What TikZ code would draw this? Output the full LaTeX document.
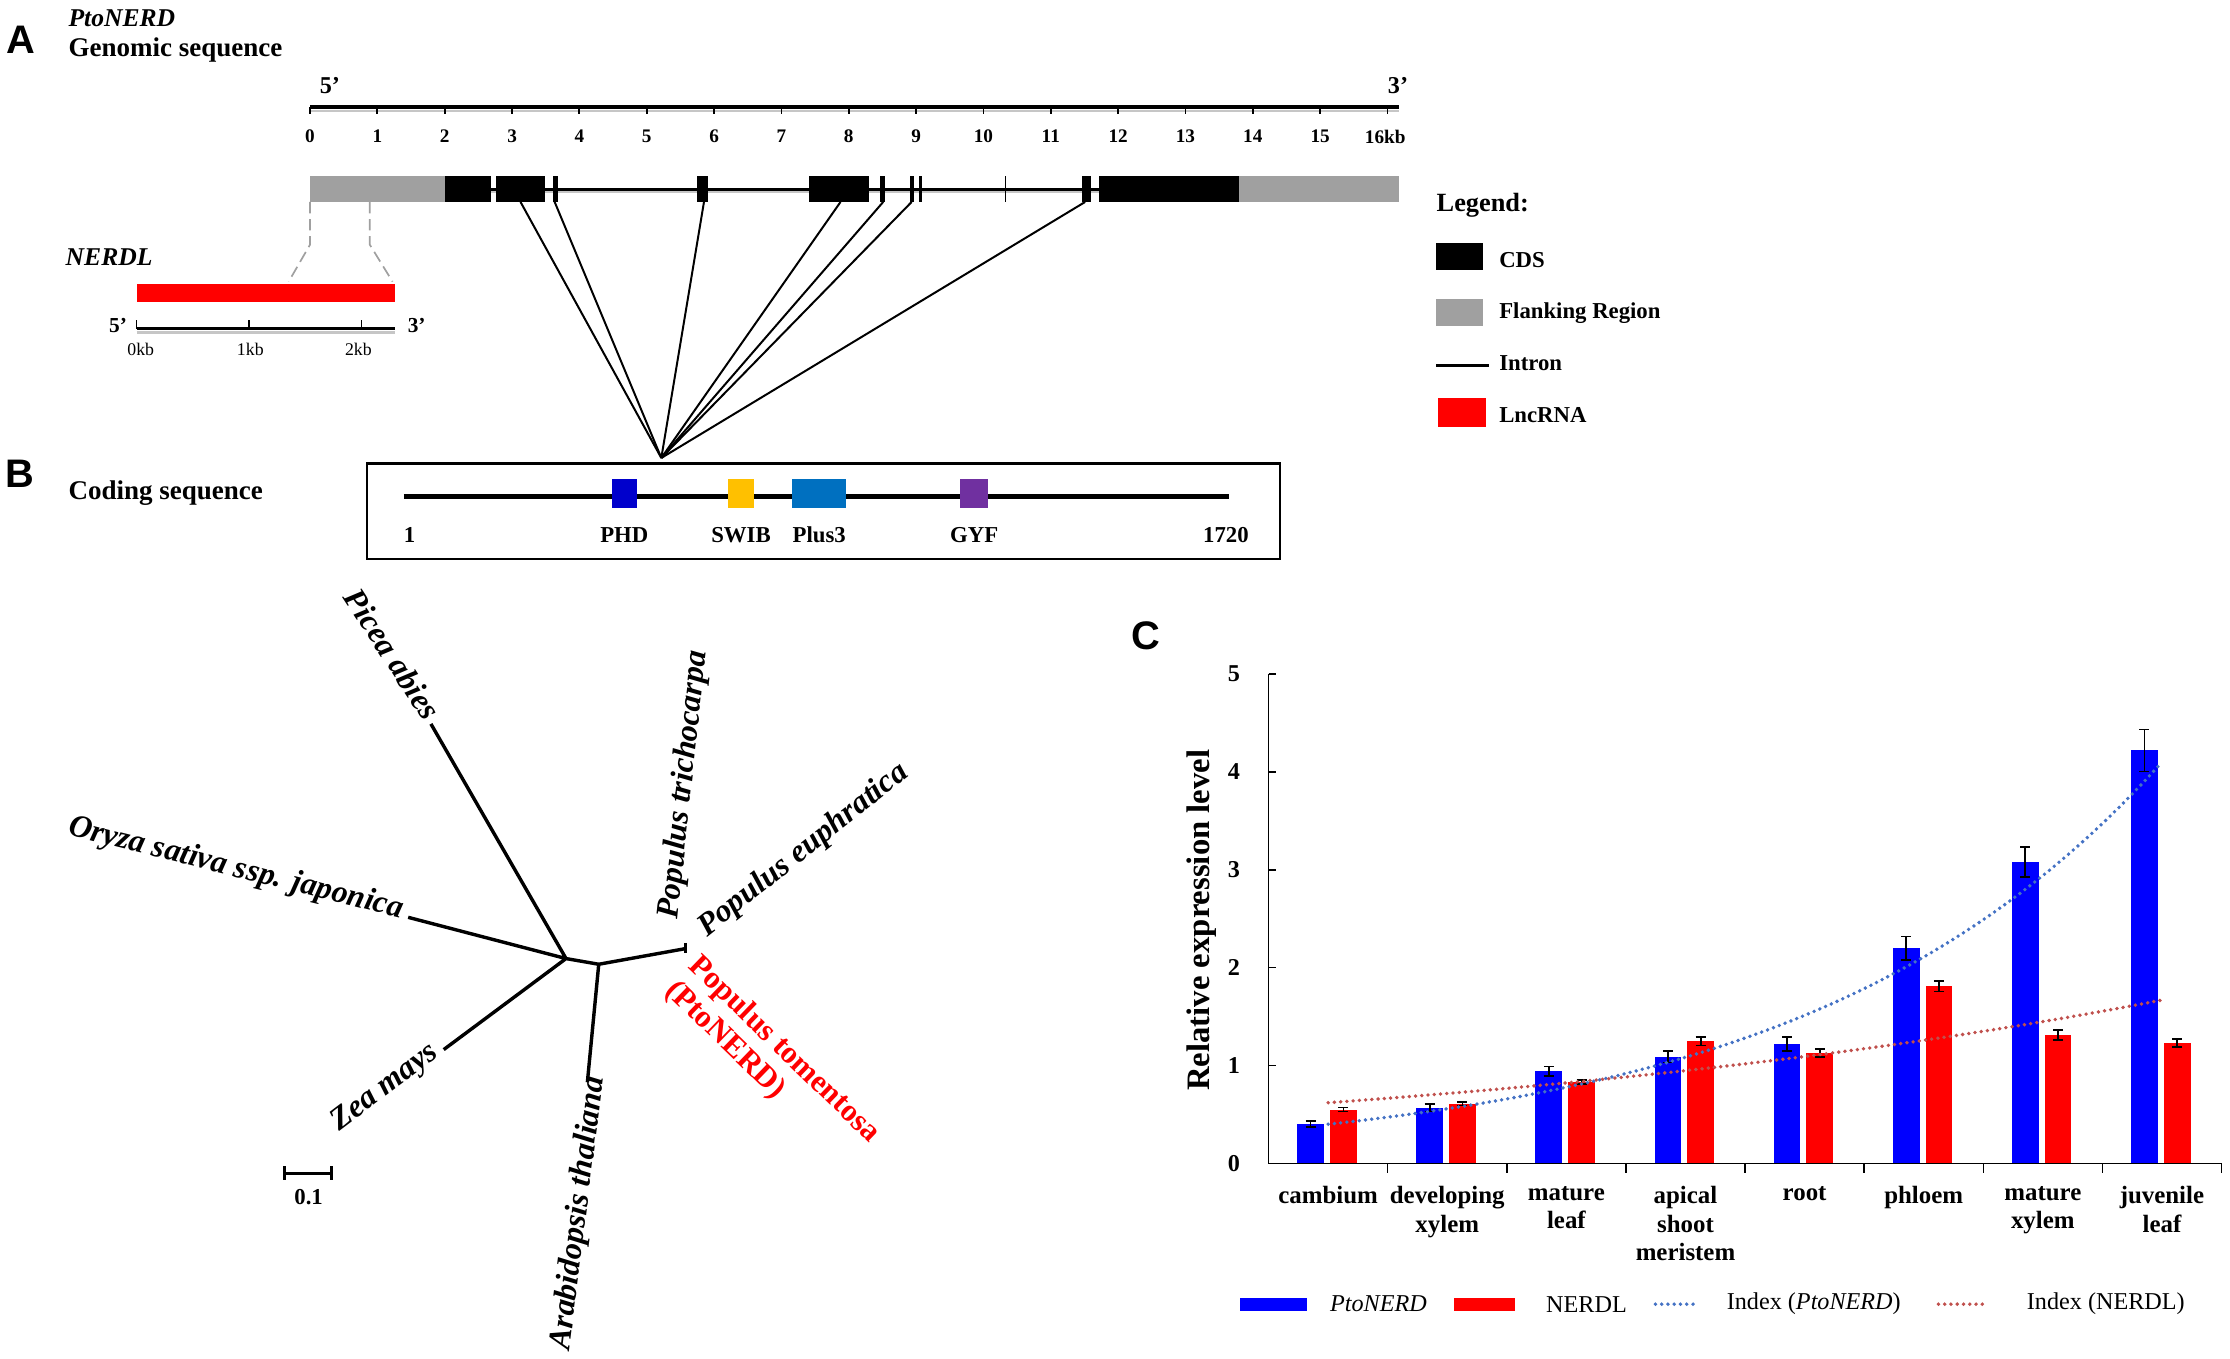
\documentclass[tikz,border=0pt]{standalone}
\usepackage{fontspec}
\setmainfont{Liberation Serif}
\newfontfamily\panelfont{Liberation Sans}
\usetikzlibrary{positioning,calc}
\definecolor{flankgray}{RGB}{160,160,160}
\definecolor{phdblue}{RGB}{0,0,204}
\definecolor{swibgold}{RGB}{255,192,0}
\definecolor{plusblue}{RGB}{0,112,192}
\definecolor{gyfpurple}{RGB}{112,48,160}
\definecolor{trendblue}{RGB}{68,114,196}
\definecolor{trendred}{RGB}{192,80,77}
\newcommand{\fsz}[1]{\fontsize{#1}{#1}\selectfont}
\tikzset{
  panel/.style={font=\panelfont\bfseries\fsz{28}},
  lbl/.style={font=\bfseries\fsz{16}},
  taxon/.style={font=\bfseries\itshape\fsz{22.5}},
  branch/.style={line width=2.4pt},
  errbar/.style={line width=1.2pt},
  trend/.style={line width=2.7pt, dash pattern=on 0pt off 4.4pt, line cap=round},
  guide/.style={flankgray, line width=1.2pt, dash pattern=on 8pt off 4pt},
}
\begin{document}
\begin{tikzpicture}[x=1pt, y=-1pt, inner sep=0pt, font=\fsz{16}]
\useasboundingbox (0,0) rectangle (1568,955);
% A: genomic sequence of PtoNERD
\node[panel] (pa) at (15,28) {A};
\node[anchor=base west, font=\bfseries\itshape\fsz{18}] (gname) at (48,18.5) {PtoNERD};
\node[anchor=base west, font=\bfseries\fsz{19}] (gtitle) at (48,39.5) {Genomic sequence};
\node[font=\bfseries\fsz{17}] (five) at (232,60) {5'};
\node[font=\bfseries\fsz{17}] (three) at (983,60) {3'};
\draw[flankgray!60, line width=2pt] (218,78) -- (984,78);
\draw[line width=3pt] (218,75) -- (984,75);
\foreach \k in {0,...,16}{\draw[line width=1.3pt] (218+47.35*\k,75) -- (218+47.35*\k,80);}
\foreach \k in {0,...,15}{\node[font=\bfseries\fsz{13.5}] (kb\k) at (218+47.35*\k,96) {\k};}
\node[font=\bfseries\fsz{13.5}] (kb16) at (974,96) {16kb};
\draw[flankgray!60, line width=2pt] (345,135) -- (773,135);
\draw[line width=2pt] (345,133) -- (773,133);
\fill[flankgray] (218,124) rectangle (313,142);
\fill[flankgray] (871,124) rectangle (984,142);
\foreach \a/\b in {313/345,349/383,389/392,490/498,569/611,619/622,640/643,646/648,761/767,773/871}
  {\fill (\a,124) rectangle (\b,142);}
\draw[line width=1pt] (707,124) -- (707,142);
% exons down to the coding sequence
\coordinate (apex) at (465,322);
\foreach \x [count=\i] in {366,390,495,591,621,641,763}{
  \coordinate (ex\i) at (\x,142);
  \draw[line width=1.4pt] (ex\i) -- (apex);}
% NERDL
\draw[guide] (218,142) -- (218,172) -- (203,198);
\draw[guide] (260,142) -- (260,172) -- (276,198);
\node[anchor=west, font=\bfseries\itshape\fsz{18}] (lname) at (46,181) {NERDL};
\fill[red] (96,200) rectangle (278,212);
\draw[flankgray!60, line width=2pt] (96,234) -- (278,234);
\draw[line width=2.5pt] (96,231) -- (278,231);
\foreach \x/\lx/\t in {96/99/0kb,175/176/1kb,254/252/2kb}{
  \draw[line width=1pt] (\x,231) -- (\x,225);
  \node[font=\fsz{12.5}] at (\lx,246) {\t};}
\node[font=\bfseries\fsz{15}] (lfive) at (83,229) {5'};
\node[font=\bfseries\fsz{15}] (lthree) at (293,229) {3'};
% legend
\node[anchor=west, font=\bfseries\fsz{18.5}] (leg) at (1010,144) {Legend:};
\fill (1010,171) rectangle (1043,190);
\node[lbl, anchor=west] (lcds) at (1054,183) {CDS};
\fill[flankgray] (1010,210) rectangle (1043,229);
\node[lbl, anchor=west] (lflank) at (1054,220) {Flanking Region};
\draw[line width=2.5pt] (1010,257) -- (1047,257);
\node[lbl, anchor=west] (lintron) at (1054,255) {Intron};
\fill[red] (1011,280) rectangle (1045,300);
\node[lbl, anchor=west] (llnc) at (1054,292) {LncRNA};
% B: coding sequence
\node[panel] (pb) at (14,333) {B};
\node[anchor=west, font=\bfseries\fsz{19}] (ctitle) at (48,347) {Coding sequence};
\draw[line width=2pt] (258,326) rectangle (900,393);
\draw[line width=3.5pt] (284,349) -- (864,349);
\foreach \a/\b/\c/\t in {430/448/phdblue/PHD,512/530/swibgold/SWIB,557/595/plusblue/Plus3,675/695/gyfpurple/GYF}{
  \fill[\c] (\a,337) rectangle (\b,357);
  \node[lbl] at ({(\a+\b)/2},376) {\t};}
\node[lbl] (cstart) at (288,376) {1};
\node[lbl] (cend) at (862,376) {1720};
% tree
\coordinate (root) at (398,674);
\coordinate (inner) at (421,678);
\coordinate (pop) at (482,667);
\coordinate (picea) at (303,509);
\coordinate (oryza) at (287,645);
\coordinate (zea) at (312,738);
\coordinate (arab) at (413,761);
\draw[branch] (picea) -- (root) (oryza) -- (root) (zea) -- (root) (root) -- (inner) -- (pop) (inner) -- (arab);
\draw[line width=1.6pt] (pop) ++(0,-4) -- ++(0,7);
\node[taxon, rotate=-57] (tpicea) at (276,460) {Picea abies};
\node[taxon, rotate=-14] (toryza) at (166,611) {Oryza sativa ssp. japonica};
\node[taxon, rotate=37] (tzea) at (271,765) {Zea mays};
\node[taxon, rotate=83] (tarab) at (407,853) {Arabidopsis thaliana};
\node[taxon, rotate=84] (ttri) at (481,552) {Populus trichocarpa};
\node[taxon, rotate=38.5] (teup) at (565,598) {Populus euphratica};
\node[font=\bfseries\fontsize{22}{24}\selectfont, text=red, rotate=-44, align=left] (ttom) at (543,747) {Populus tomentosa\\(PtoNERD)};
\coordinate (sb1) at (200,825);
\coordinate (sb2) at (233,825);
\draw[line width=2pt] (sb1) -- (sb2) (sb1) ++(0,-5) -- ++(0,10) (sb2) ++(0,-5) -- ++(0,10);
\node[font=\bfseries\fsz{16}] (sblab) at (217,842) {0.1};
% C: expression
\node[panel] (pc) at (806,447) {C};
\node[rotate=90, font=\bfseries\fsz{23}] (ylab) at (845,647) {Relative expression level};
\begin{scope}[shift={(892,818)}, x=83.75pt, y=68.8pt]
  \foreach \k/\b/\be/\r/\re in {0/0.40/0.03/0.55/0.02, 1/0.57/0.04/0.61/0.02, 2/0.94/0.05/0.83/0.02, 3/1.09/0.06/1.25/0.045, 4/1.22/0.07/1.13/0.04, 5/2.20/0.12/1.81/0.055, 6/3.08/0.155/1.31/0.05, 7/4.22/0.215/1.23/0.04}{
    \fill[blue] (\k+0.24,0) rectangle (\k+0.465,\b);
    \fill[red] (\k+0.515,0) rectangle (\k+0.74,\r);
    \draw[errbar] (\k+0.3525,\b-\be) -- (\k+0.3525,\b+\be)
      (\k+0.3525,\b-\be) ++(-3.5pt,0pt) -- ++(7pt,0pt) (\k+0.3525,\b+\be) ++(-3.5pt,0pt) -- ++(7pt,0pt);
    \draw[errbar] (\k+0.6275,\r-\re) -- (\k+0.6275,\r+\re)
      (\k+0.6275,\r-\re) ++(-3.5pt,0pt) -- ++(7pt,0pt) (\k+0.6275,\r+\re) ++(-3.5pt,0pt) -- ++(7pt,0pt);}
  \draw[line width=1.2pt] (0,5) -- (0,0) -- (8,0);
  \foreach \v in {0,...,5}{
    \draw[line width=1pt] (0,\v) -- ++(5pt,0pt);
    \node[font=\bfseries\fsz{17}, left=20pt] at (0,\v) {\v};}
  \foreach \k in {1,...,8}{\draw[line width=1pt] (\k,0) -- ++(0pt,-7pt);}
  \draw[trend, trendblue] plot[domain=0:7, samples=60] ({\x+0.5},{0.40*exp(0.3325*\x)});
  \draw[trend, trendred] plot[domain=0:7, samples=60] ({\x+0.5},{0.62*exp(0.1415*\x)});
  \foreach \k/\t in {0/cambium,1/{developing\\xylem},2/{mature\\leaf},3/{apical\\shoot\\meristem},4/root,5/phloem,6/{mature\\xylem},7/{juvenile\\leaf}}{
    \node[align=center, anchor=north, font=\bfseries\fontsize{17.5}{20}\selectfont, yshift=-16pt] at (\k+0.5,0) {\t};}
\end{scope}
% legend of C
\fill[blue] (872,913) rectangle (919,922);
\node[anchor=west, font=\itshape\fsz{17}] (cblue) at (935,917) {PtoNERD};
\fill[red] (1022,913) rectangle (1065,922);
\node[anchor=west, font=\fsz{17}] (cred) at (1087,917) {NERDL};
\draw[trend, trendblue] (1164,917) -- (1192,917);
\node[anchor=west, font=\fsz{17}] (cidxb) at (1214,917) {Index (\textit{PtoNERD})};
\draw[trend, trendred] (1363,917) -- (1398,917);
\node[anchor=west, font=\fsz{17}] (cidxr) at (1425,917) {Index (NERDL)};
\end{tikzpicture}
\end{document}
